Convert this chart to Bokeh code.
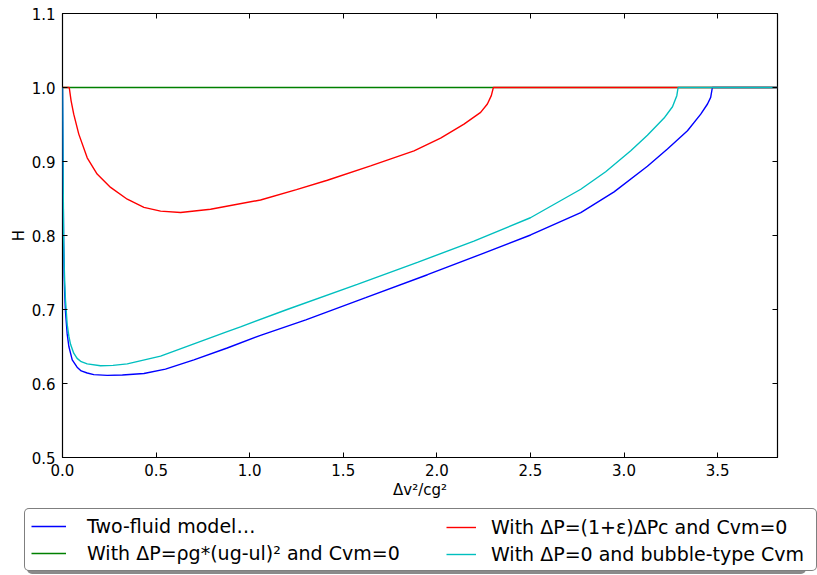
from bokeh.plotting import figure
from bokeh.layouts import column
from bokeh.models import (Range1d, FixedTicker, Legend, LegendItem, LinearAxis, Plot,
                          CustomJSTickFormatter, PrintfTickFormatter)
from bokeh.embed import file_html
from bokeh.resources import INLINE

# ---- data ----
blue_x = [0.0, 0.003, 0.006, 0.009, 0.012, 0.016, 0.025, 0.034, 0.052, 0.078, 0.10,
          0.132, 0.167, 0.239, 0.32, 0.435, 0.55, 0.702, 0.88, 1.058, 1.3, 1.62, 1.95,
          2.234, 2.501, 2.769, 2.947, 3.125, 3.232, 3.339, 3.41, 3.446, 3.463, 3.472, 3.82]
blue_h = [1.0, 0.88, 0.79, 0.745, 0.72, 0.697, 0.667, 0.650, 0.632, 0.622, 0.617,
          0.6142, 0.612, 0.611, 0.6115, 0.6135, 0.6195, 0.632, 0.648, 0.665, 0.686, 0.716,
          0.747, 0.7745, 0.8007, 0.831, 0.859, 0.8935, 0.917, 0.9415, 0.964, 0.9777,
          0.9866, 1.0, 1.0]

green_x = [0.0, 3.82]
green_h = [1.0, 1.0]

red_x = [0.0, 0.036, 0.046, 0.06, 0.087, 0.132, 0.185, 0.257, 0.346, 0.435, 0.524, 0.631,
         0.791, 1.058, 1.25, 1.415, 1.646, 1.878, 2.02, 2.145, 2.234, 2.27, 2.291, 2.302,
         3.82]
red_h = [1.0, 1.0, 0.982, 0.964, 0.937, 0.905, 0.883, 0.865, 0.849, 0.838, 0.833, 0.831,
         0.8355, 0.848, 0.862, 0.8747, 0.8941, 0.9144, 0.9316, 0.9506, 0.9663, 0.9777,
         0.989, 1.0, 1.0]

cyan_x = [0.0, 0.003, 0.006, 0.009, 0.012, 0.016, 0.025, 0.034, 0.043, 0.06, 0.078, 0.10,
          0.132, 0.203, 0.27, 0.346, 0.524, 0.702, 0.88, 0.951, 1.2, 1.575, 1.9, 2.198,
          2.5, 2.769, 2.902, 3.036, 3.125, 3.214, 3.259, 3.282, 3.289, 3.82]
cyan_h = [1.0, 0.89, 0.80, 0.76, 0.735, 0.712, 0.68, 0.664, 0.653, 0.641, 0.634, 0.6295,
          0.6265, 0.624, 0.6245, 0.6265, 0.637, 0.6535, 0.670, 0.6765, 0.700, 0.734,
          0.764, 0.7925, 0.824, 0.8625, 0.8862, 0.9145, 0.9355, 0.9587, 0.974, 0.989,
          1.0, 1.0]

x_ticks = [0.0, 0.5, 1.0, 1.5, 2.0, 2.5, 3.0, 3.5]
y_ticks = [0.5, 0.6, 0.7, 0.8, 0.9, 1.0, 1.1]
series_labels = ["Two-fluid model…",
                 "With ΔP=ρg*(ug-ul)² and Cvm=0",
                 "With ΔP=(1+ε)ΔPc and Cvm=0",
                 "With ΔP=0 and bubble-type Cvm"]
series_colors = ["#0000ff", "#008000", "#ff0000", "#00bfbf"]
x_label = "Δv²/cg²"
y_label = "H"

FONT = "DejaVu Sans"
LW = 1.4
HAS_FRAME_ALIGN = "frame_align" in Plot.properties()

# ---------------- main plot ----------------
p = figure(width=817, height=505, output_backend="svg", toolbar_location=None,
           x_range=Range1d(0, 3.82), y_range=Range1d(0.5, 1.1),
           min_border_left=62, min_border_right=40, min_border_top=13,
           min_border_bottom=48)
p.xgrid.visible = False
p.ygrid.visible = False
p.outline_line_color = "black"
p.outline_line_alpha = 1.0
p.outline_line_width = 1.2
p.background_fill_color = "white"
p.border_fill_color = "white"

series = [(blue_x, blue_h), (green_x, green_h), (red_x, red_h), (cyan_x, cyan_h)]
for (xs, hs), c in zip(series, series_colors):
    p.line(xs, hs, line_color=c, line_width=LW)


def style(ax, ticks):
    ax.ticker = FixedTicker(ticks=ticks)
    ax.formatter = PrintfTickFormatter(format="%.1f")
    ax.major_tick_in = 5
    ax.major_tick_out = 0
    ax.major_tick_line_color = "black"
    ax.minor_tick_line_color = None
    ax.axis_line_color = None
    ax.major_label_text_font = FONT
    ax.major_label_text_font_size = "15px"
    ax.major_label_text_color = "black"
    ax.axis_label_text_font = FONT
    ax.axis_label_text_font_size = "15px"
    ax.axis_label_text_font_style = "normal"
    ax.axis_label_text_color = "black"


xa = p.xaxis[0]
ya = p.yaxis[0]
style(xa, x_ticks)
style(ya, y_ticks)
xa.axis_label = x_label
ya.axis_label = y_label
xa.major_label_standoff = 6
xa.axis_label_standoff = 2
ya.major_label_standoff = 7
ya.axis_label_standoff = 1

for side, ticks in (("above", x_ticks), ("right", y_ticks)):
    ax = LinearAxis()
    style(ax, ticks)
    ax.formatter = CustomJSTickFormatter(code="return ''")
    ax.major_label_text_font_size = "0px"
    ax.major_label_standoff = 0
    p.add_layout(ax, side)

# ---------------- legend strip ----------------
# the swatch renderers reuse the series data; the y range keeps them out of view
lf = figure(width=817, height=70, output_backend="svg", toolbar_location=None,
            x_range=Range1d(0, 1), y_range=Range1d(10, 11), min_border=0,
            x_axis_location=None, y_axis_location=None)
lf.outline_line_color = None
lf.grid.visible = False
lf.background_fill_color = "white"
lf.border_fill_color = "white"
swatches = [lf.line(xs, hs, line_color=c, line_width=LW)
            for (xs, hs), c in zip(series, series_colors)]
if HAS_FRAME_ALIGN:
    p.frame_align = False
    lf.frame_align = False

common = dict(label_text_font=FONT, label_text_font_size="19px",
              label_text_color="black", glyph_height=22, label_height=22,
              spacing=5, margin=0, orientation="vertical")
has_radius = "border_radius" in Legend.properties()

shadow = Legend(items=[LegendItem(label=" ", renderers=[swatches[0]]),
                       LegendItem(label=" ", renderers=[swatches[1]])],
                location=(27, 1), padding=6, glyph_width=35, label_standoff=21,
                label_width=723, background_fill_color="#8a8a8a",
                background_fill_alpha=1.0, border_line_color=None, **common)
leg_a = Legend(items=[LegendItem(label=series_labels[0], renderers=[swatches[0]]),
                      LegendItem(label=series_labels[1], renderers=[swatches[1]])],
               location=(24, 4), padding=6, glyph_width=35, label_standoff=21,
               label_width=723, background_fill_color="white",
               background_fill_alpha=1.0, border_line_color="black",
               border_line_width=1.3, **common)
leg_b = Legend(items=[LegendItem(label=series_labels[2], renderers=[swatches[2]]),
                      LegendItem(label=series_labels[3], renderers=[swatches[3]])],
               location=(446, 10), padding=0, glyph_width=30, label_standoff=15,
               background_fill_alpha=0.0, border_line_color=None, **common)
if has_radius:
    shadow.border_radius = 5
    leg_a.border_radius = 5
for lg in (shadow, leg_a, leg_b):
    lf.add_layout(lg, "center")

layout = column(p, lf, spacing=0)
open("out.html", "w").write(file_html(layout, INLINE))
